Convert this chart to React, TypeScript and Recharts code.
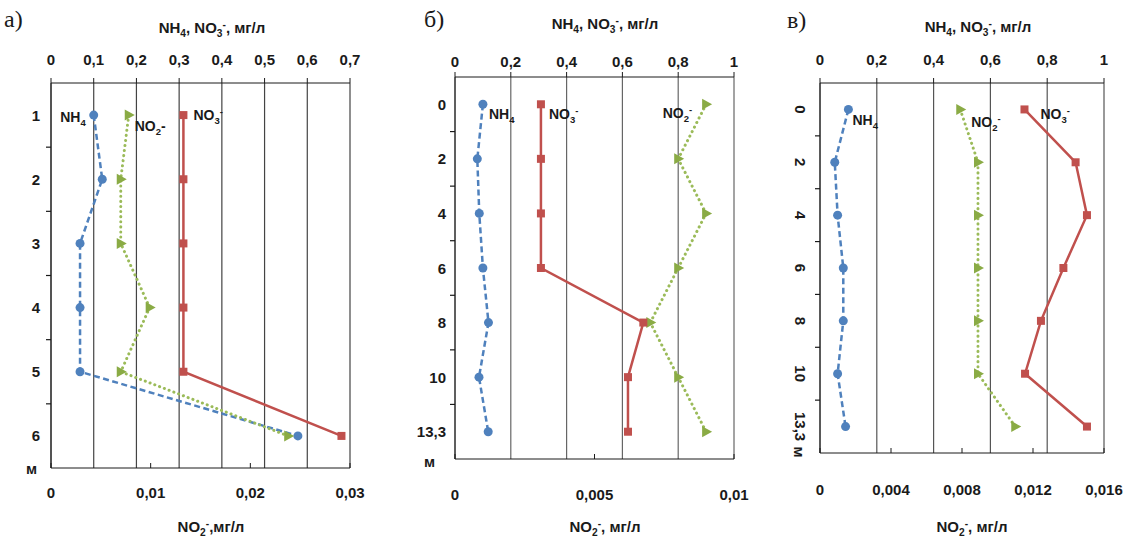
import { ScatterChart, Scatter, XAxis, YAxis, CartesianGrid } from 'recharts';

// depth labels (m) and concentrations
const depthA = ['1', '2', '3', '4', '5', '6'];
const nh4A = [0.1, 0.12, 0.068, 0.068, 0.068, 0.578];
const no2A = [0.0078, 0.007, 0.007, 0.0099, 0.007, 0.0238];
const no3A = [0.31, 0.31, 0.31, 0.31, 0.31, 0.68];

const depthB = ['0', '2', '4', '6', '8', '10', '13,3'];
const nh4B = [0.1, 0.08, 0.087, 0.1, 0.12, 0.086, 0.119];
const no2B = [0.009, 0.008, 0.009, 0.008, 0.007, 0.008, 0.009];
const no3B = [0.308, 0.308, 0.308, 0.308, 0.675, 0.62, 0.62];

const depthC = ['0', '2', '4', '6', '8', '10', '13,3'];
const nh4C = [0.1, 0.052, 0.062, 0.082, 0.082, 0.062, 0.09];
const no2C = [0.0079, 0.0089, 0.0089, 0.0089, 0.0089, 0.0089, 0.011];
const no3C = [0.72, 0.9, 0.94, 0.857, 0.778, 0.722, 0.94];

const topTicksA = [0, 0.1, 0.2, 0.3, 0.4, 0.5, 0.6, 0.7];
const botTicksA = [0, 0.01, 0.02, 0.03];
const topTicksB = [0, 0.2, 0.4, 0.6, 0.8, 1];
const botTicksB = [0, 0.005, 0.01];
const topTicksC = [0, 0.2, 0.4, 0.6, 0.8, 1];
const botTicksC = [0, 0.004, 0.008, 0.012, 0.016];

const BLUE = '#4f81bd';
const GREEN = '#8aab45';
const RED = '#c0504d';
const INK = '#1a1a1a';
const FONT = '"Liberation Sans", Arial, sans-serif';
const AX = 20; // axis band size reserved inside the margins

type Part = [string, 'n' | 'b' | 'p'];
const LEVEL = { n: 0, b: 4, p: -5 };

const NH4: Part[] = [['NH', 'n'], ['4', 'b']];
const NO3: Part[] = [['NO', 'n'], ['3', 'b'], ['-', 'p']];
const NO2: Part[] = [['NO', 'n'], ['2', 'b'], ['-', 'p']];
const NO2dash: Part[] = [['NO', 'n'], ['2', 'b'], ['-', 'n']];
const TOP_TITLE: Part[] = [['NH', 'n'], ['4', 'b'], [', NO', 'n'], ['3', 'b'], ['-', 'p'], [', мг/л', 'n']];
const BOT_TITLE_A: Part[] = [['NO', 'n'], ['2', 'b'], ['-', 'p'], [',мг/л', 'n']];
const BOT_TITLE: Part[] = [['NO', 'n'], ['2', 'b'], ['-', 'p'], [', мг/л', 'n']];

function Chem({ x, y, parts, size = 14, anchor = 'start' }: { x: number; y: number; parts: Part[]; size?: number; anchor?: string }) {
  let prev = 0;
  return (
    <text x={x} y={y} fontSize={size} fontWeight="bold" fontFamily={FONT} textAnchor={anchor} fill={INK}>
      {parts.map(([s, k], i) => {
        const lv = LEVEL[k];
        const dy = lv - prev;
        prev = lv;
        return (
          <tspan key={i} dy={dy} fontSize={k === 'n' ? size : size * 0.68}>{s}</tspan>
        );
      })}
    </text>
  );
}

const fmt = (v: number) => String(v).replace('.', ',');

interface Lbl { parts: Part[]; dx: number; dy: number; anchor?: string }

function makeShape(kind: 'circle' | 'square' | 'tri', color: string, lbl: Lbl) {
  return (p: any) => {
    const { cx, cy, payload } = p;
    let mark;
    if (kind === 'circle') mark = <circle cx={cx} cy={cy} r={4.5} fill={color} />;
    else if (kind === 'square') mark = <rect x={cx - 4} y={cy - 4} width={8} height={8} fill={color} />;
    else mark = <polygon points={`${cx - 4},${cy - 5.5} ${cx + 6},${cy} ${cx - 4},${cy + 5.5}`} fill={color} />;
    return (
      <g>
        {mark}
        {payload.pos === 1 && <Chem x={cx + lbl.dx} y={cy + lbl.dy} parts={lbl.parts} anchor={lbl.anchor} />}
      </g>
    );
  };
}

interface PanelCfg {
  left: number; right: number; top: number; bottom: number;
  depths: string[]; nh4: number[]; no2: number[]; no3: number[];
  topTicks: number[]; botTicks: number[];
  topGap: number; botGap: number;
  yDx: number; mDx: number; mDy: number; rotate: boolean;
  gridColor: string;
  labels: { nh4: Lbl; no2: Lbl; no3: Lbl };
}

function Panel(c: PanelCfg) {
  const n = c.depths.length;
  const pts = (arr: number[]) => arr.map((v, i) => ({ pos: i + 1, v }));
  const yTicks = c.depths.map((_, i) => i + 1);
  const half = (c.bottom - c.top) / n / 2;
  const topMax = c.topTicks[c.topTicks.length - 1];
  const botMax = c.botTicks[c.botTicks.length - 1];

  const txt = (px: number, py: number, s: string, rot: boolean, anchor = 'end') =>
    rot ? (
      <text x={px} y={py} transform={`rotate(90 ${px} ${py})`} textAnchor="middle" dominantBaseline="central"
        fontSize={15} fontWeight="bold" fontFamily={FONT} fill={INK}>{s}</text>
    ) : (
      <text x={px} y={py} textAnchor={anchor} fontSize={15} fontWeight="bold" fontFamily={FONT} fill={INK}>{s}</text>
    );

  // labels sit at band centres, tick marks at band boundaries
  const YTick = (p: any) => {
    const { x, y, payload } = p;
    const v = payload.value as number;
    const s = c.depths[v - 1];
    const yb = y + half;
    return (
      <g>
        {c.rotate ? txt(x + c.yDx, y, s, true) : txt(x + c.yDx, y + 5.5, s, false)}
        {v < n && <path d={`M${x - 5},${yb}H${x}`} stroke={INK} strokeWidth={1.2} fill="none" />}
        {v === n && txt(x + c.mDx, yb + c.mDy, 'м', c.rotate)}
      </g>
    );
  };

  const TopTick = (p: any) => {
    const { x, y, payload } = p;
    return (
      <g>
        <line x1={x} x2={x} y1={y - 5} y2={y} stroke={INK} />
        <text x={x} y={y - c.topGap} textAnchor="middle" fontSize={15} fontWeight="bold" fontFamily={FONT} fill={INK}>{fmt(payload.value)}</text>
      </g>
    );
  };

  const BotTick = (p: any) => {
    const { x, y, payload } = p;
    return (
      <g>
        <line x1={x} x2={x} y1={y - 5} y2={y} stroke={INK} />
        <text x={x} y={y + c.botGap} textAnchor="middle" fontSize={15} fontWeight="bold" fontFamily={FONT} fill={INK}>{fmt(payload.value)}</text>
      </g>
    );
  };

  return (
    <div style={{ position: 'absolute', left: 0, top: 0 }}>
      <ScatterChart
        width={1128}
        height={540}
        margin={{ left: c.left - AX, right: 1128 - c.right, top: c.top - AX, bottom: 540 - c.bottom - AX }}
      >
        <CartesianGrid xAxisId="top" yAxisId="y" horizontal={false} stroke={c.gridColor} strokeWidth={1.2} />
        <XAxis
          xAxisId="top" orientation="top" type="number" dataKey="v" height={AX}
          domain={[0, topMax]} ticks={c.topTicks} interval={0} allowDataOverflow
          tickSize={0} tickMargin={0} tickLine={false} tick={TopTick}
          axisLine={{ stroke: INK }}
        />
        <XAxis
          xAxisId="bottom" orientation="bottom" type="number" dataKey="v" height={AX}
          domain={[0, botMax]} ticks={c.botTicks} interval={0} allowDataOverflow
          tickSize={0} tickMargin={0} tickLine={false} tick={BotTick}
          axisLine={{ stroke: INK }}
        />
        <YAxis
          yAxisId="y" type="number" dataKey="pos" width={AX} reversed
          domain={[0.5, n + 0.5]} ticks={yTicks} interval={0} allowDataOverflow
          tickSize={0} tickMargin={0} tickLine={false} tick={YTick}
          axisLine={{ stroke: INK }}
        />
        <Scatter
          data={pts(c.nh4)} xAxisId="top" yAxisId="y" isAnimationActive={false}
          line={{ stroke: BLUE, strokeWidth: 2.5, strokeDasharray: '6 3.5' }} lineType="joint"
          shape={makeShape('circle', BLUE, c.labels.nh4)}
        />
        <Scatter
          data={pts(c.no2)} xAxisId="bottom" yAxisId="y" isAnimationActive={false}
          line={{ stroke: '#9bbb59', strokeWidth: 3, strokeDasharray: '0.1 5', strokeLinecap: 'round' }} lineType="joint"
          shape={makeShape('tri', GREEN, c.labels.no2)}
        />
        <Scatter
          data={pts(c.no3)} xAxisId="top" yAxisId="y" isAnimationActive={false}
          line={{ stroke: RED, strokeWidth: 2.5 }} lineType="joint"
          shape={makeShape('square', RED, c.labels.no3)}
        />
      </ScatterChart>
    </div>
  );
}

const panelA: PanelCfg = {
  left: 51, right: 350, top: 83, bottom: 468,
  depths: depthA, nh4: nh4A, no2: no2A, no3: no3A,
  topTicks: topTicksA, botTicks: botTicksA, topGap: 18, botGap: 30,
  yDx: -11, mDx: -14, mDy: 6, rotate: false, gridColor: '#444',
  labels: {
    nh4: { parts: NH4, dx: -8, dy: 7, anchor: 'end' },
    no2: { parts: NO2dash, dx: 6, dy: 16 },
    no3: { parts: NO3, dx: 10, dy: 5 },
  },
};

const panelB: PanelCfg = {
  left: 455, right: 734, top: 77, bottom: 459,
  depths: depthB, nh4: nh4B, no2: no2B, no3: no3B,
  topTicks: topTicksB, botTicks: botTicksB, topGap: 10, botGap: 41,
  yDx: -9, mDx: -20, mDy: 8, rotate: false, gridColor: '#666',
  labels: {
    nh4: { parts: NH4, dx: 6, dy: 15 },
    no2: { parts: NO2, dx: -14, dy: 14, anchor: 'end' },
    no3: { parts: NO3, dx: 8, dy: 15 },
  },
};

const panelC: PanelCfg = {
  left: 820, right: 1104, top: 83, bottom: 453,
  depths: depthC, nh4: nh4C, no2: no2C, no3: no3C,
  topTicks: topTicksC, botTicks: botTicksC, topGap: 18, botGap: 42,
  yDx: -20, mDx: -21, mDy: -1, rotate: true, gridColor: '#555',
  labels: {
    nh4: { parts: NH4, dx: 4, dy: 16 },
    no2: { parts: NO2, dx: 11, dy: 18 },
    no3: { parts: NO3, dx: 16, dy: 10 },
  },
};

export default function App() {
  return (
    <div style={{ position: 'absolute', left: 0, top: 0, width: 1128, height: 540, background: '#fff' }}>
      <Panel {...panelA} />
      <Panel {...panelB} />
      <Panel {...panelC} />
      <svg width={1128} height={540} style={{ position: 'absolute', left: 0, top: 0, pointerEvents: 'none' }}>
        <text x={4} y={27} fontSize={24} fontFamily='"Liberation Serif", serif' fill={INK}>а)</text>
        <text x={424} y={27} fontSize={24} fontFamily='"Liberation Serif", serif' fill={INK}>б)</text>
        <text x={787} y={28} fontSize={24} fontFamily='"Liberation Serif", serif' fill={INK}>в)</text>
        <Chem x={212} y={33} parts={TOP_TITLE} size={15} anchor="middle" />
        <Chem x={605} y={29} parts={TOP_TITLE} size={15} anchor="middle" />
        <Chem x={978} y={32} parts={TOP_TITLE} size={15} anchor="middle" />
        <Chem x={211} y={532} parts={BOT_TITLE_A} size={15} anchor="middle" />
        <Chem x={605} y={532} parts={BOT_TITLE} size={15} anchor="middle" />
        <Chem x={972} y={532} parts={BOT_TITLE} size={15} anchor="middle" />
      </svg>
    </div>
  );
}
